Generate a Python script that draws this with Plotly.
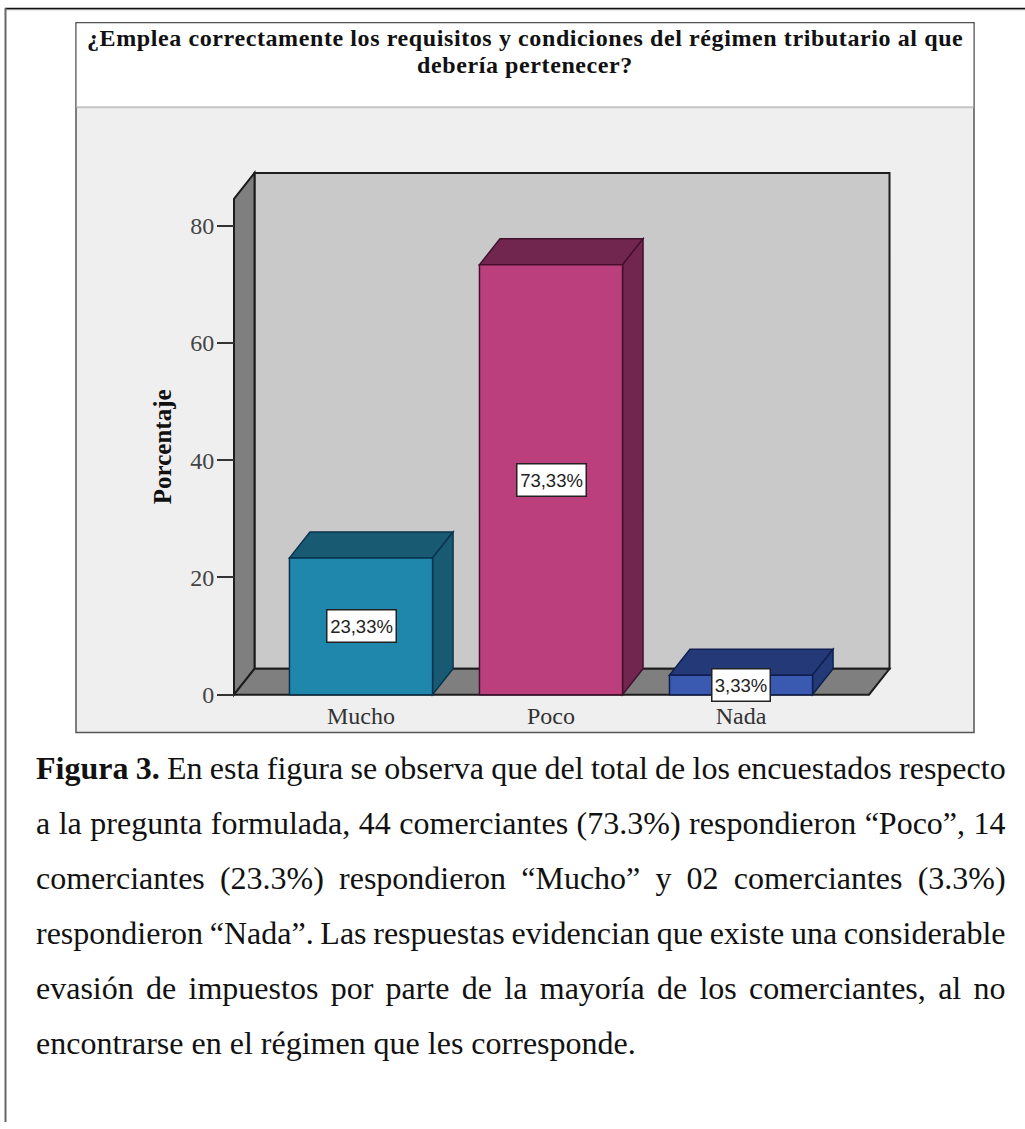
import plotly.graph_objects as go

W, H = 1025, 1129

categories = ['Mucho', 'Poco', 'Nada']
percentages = [23.33, 73.33, 3.33]
value_labels = ['23,33%', '73,33%', '3,33%']
y_ticks = [0, 20, 40, 60, 80]

front_colors = ['#1f87ac', '#bc3f7d', '#3a59b0']
side_colors = ['#175a72', '#70264f', '#243a78']
edge_colors = ['#0a3350', '#451030', '#101f50']

title_lines = ['¿Emplea correctamente los requisitos y condiciones del régimen tributario al que',
               'debería pertenecer?']

caption_lines = [
    'Figura 3. En esta figura se observa que del total de los encuestados respecto',
    'a la pregunta formulada, 44 comerciantes (73.3%) respondieron “Poco”, 14',
    'comerciantes (23.3%) respondieron “Mucho” y 02 comerciantes (3.3%)',
    'respondieron “Nada”. Las respuestas evidencian que existe una considerable',
    'evasión de impuestos por parte de la mayoría de los comerciantes, al no',
    'encontrarse en el régimen que les corresponde.',
]

# pixel scale of the two axes
X_ZERO, X_STEP = 361, 190
Y_ZERO, Y_STEP = 699, 5.9
BAR_WIDTH = 0.753
DEPTH_X = 20.5 / X_STEP
DEPTH_Y = 26 / Y_STEP
FLOOR_LEFT = (234 - X_ZERO) / X_STEP
FLOOR_RIGHT = (869 - X_ZERO) / X_STEP
WALL_TOP = (Y_ZERO - 200) / Y_STEP

# Times widths, used to justify the caption like the original
TIMES = {' ': 250, 'a': 444, 'c': 444, 'e': 444, 'f': 333, 'i': 278, 'j': 278, 'l': 278, 'm': 778, 'r': 333,
         's': 389, 't': 278, 'w': 722, 'z': 444, '.': 250, ',': 250, '(': 333, ')': 333, '%': 833, '“': 444,
         '”': 444, 'é': 444, 'í': 278, 'A': 722, 'E': 611, 'F': 556, 'L': 611, 'M': 889, 'N': 722, 'P': 556}
CAPTION_SIZE = 32
CAPTION_LEFT, CAPTION_RIGHT = 36, 1005.7


def px_x(v):
    return v / W


def px_y(v):
    return 1 - v / H


def text_width(line):
    width = sum(TIMES.get(c, 500) for c in line) * CAPTION_SIZE / 1000
    if line.startswith('Figura 3.'):
        # bold F, u, r are wider than the regular ones
        width += (55 + 56 + 111 + 56) * CAPTION_SIZE / 1000
    return width


def poly(points, fill, line, width=1.5, xref='x', yref='y'):
    path = 'M' + ' L'.join(f'{x},{y}' for x, y in points) + ' Z'
    return dict(type='path', path=path, fillcolor=fill, line=dict(color=line, width=width),
                xref=xref, yref=yref, layer='below')


def page_rect(x0, y0, x1, y1, fill, line, width=1.5):
    return dict(type='rect', xref='paper', yref='paper', x0=px_x(x0), x1=px_x(x1), y0=px_y(y0), y1=px_y(y1),
                fillcolor=fill, line=dict(color=line, width=width), layer='below')


def page_line(x0, y0, x1, y1, color, width):
    return dict(type='line', xref='paper', yref='paper', x0=px_x(x0), x1=px_x(x1), y0=px_y(y0), y1=px_y(y1),
                line=dict(color=color, width=width), layer='below')


shapes = [
    page_line(5, 9.5, W, 9.5, '#bbbbbb', 1.5),
    page_line(5, 8.5, W, 8.5, '#111111', 1.5),
    page_line(5.5, 8, 5.5, H, '#666666', 2),
    page_rect(76, 23, 974, 737, '#efefef', '#555555'),
    page_rect(76.7, 23.7, 973.3, 108, '#ffffff', 'rgba(0,0,0,0)', 0),
    page_line(76.7, 108, 973.3, 108, '#c4c4c4', 2),
]

# walls and floor
back_left, back_right = FLOOR_LEFT + DEPTH_X, FLOOR_RIGHT + DEPTH_X
back_top = WALL_TOP + DEPTH_Y
shapes.append(poly([(back_left, DEPTH_Y), (back_left, back_top), (back_right, back_top), (back_right, DEPTH_Y)],
                   '#c9c9c9', '#1c1c1c', 2))
shapes.append(poly([(FLOOR_LEFT, 0), (FLOOR_LEFT, WALL_TOP), (back_left, back_top), (back_left, DEPTH_Y)],
                   '#7f7f7f', '#1c1c1c', 2))
shapes.append(poly([(FLOOR_LEFT, 0), (back_left, DEPTH_Y), (back_right, DEPTH_Y), (FLOOR_RIGHT, 0)],
                   '#7f7f7f', '#1c1c1c', 2))

# top and side of each bar
for i, value in enumerate(percentages):
    left, right = i - BAR_WIDTH / 2, i + BAR_WIDTH / 2
    shapes.append(poly([(left, value), (left + DEPTH_X, value + DEPTH_Y), (right + DEPTH_X, value + DEPTH_Y),
                        (right, value)], side_colors[i], edge_colors[i]))
    shapes.append(poly([(right, 0), (right, value), (right + DEPTH_X, value + DEPTH_Y), (right + DEPTH_X, DEPTH_Y)],
                       side_colors[i], edge_colors[i]))

annotations = []

for i, line in enumerate(title_lines):
    annotations.append(dict(xref='paper', yref='paper', x=px_x(525), y=px_y(38 + i * 27),
                            text=f'<span style="letter-spacing:0.6px"><b>{line}</b></span>',
                            showarrow=False, xanchor='center', yanchor='middle', borderpad=0, borderwidth=0,
                            font=dict(family='Liberation Serif', size=24, color='#111111')))

annotations.append(dict(xref='paper', yref='paper', x=px_x(162), y=px_y(450), text='<b>Porcentaje</b>', textangle=-90,
                        showarrow=False, xanchor='center', yanchor='middle', borderpad=0, borderwidth=0,
                        font=dict(family='Liberation Serif', size=25, color='#111111')))

for i, value in enumerate(percentages):
    annotations.append(dict(x=i, y=value / 2, text=value_labels[i], showarrow=False, xref='x', yref='y',
                            bgcolor='#ffffff', bordercolor='#222222', borderwidth=1.5, borderpad=0,
                            width=68 if i < 2 else 57, height=31,
                            font=dict(family='Liberation Sans', size=18.5, color='#222222')))

for i, line in enumerate(caption_lines):
    words = line.split(' ')
    spacing = 0
    if i < len(caption_lines) - 1:
        spacing = (CAPTION_RIGHT - CAPTION_LEFT - text_width(line)) / (len(words) - 1)
    shown = line.replace('Figura 3.', '<b>Figura 3.</b>')
    annotations.append(dict(xref='paper', yref='paper', x=px_x(CAPTION_LEFT), y=px_y(772.6 + i * 55.4),
                            text=f'<span style="word-spacing:{spacing:.2f}px">{shown}</span>',
                            showarrow=False, xanchor='left', yanchor='middle', align='left',
                            borderpad=0, borderwidth=0,
                            font=dict(family='Liberation Serif', size=CAPTION_SIZE, color='#111111')))

fig = go.Figure(go.Bar(
    x=list(range(len(categories))),
    y=percentages,
    width=BAR_WIDTH,
    marker=dict(color=front_colors, line=dict(color=edge_colors, width=1.5)),
    hoverinfo='skip',
))

fig.update_layout(
    width=W,
    height=H,
    margin=dict(l=0, r=0, t=0, b=0),
    paper_bgcolor='#ffffff',
    plot_bgcolor='rgba(0,0,0,0)',
    showlegend=False,
    shapes=shapes,
    annotations=annotations,
    xaxis=dict(
        domain=[px_x(228), px_x(895)],
        range=[(228 - X_ZERO) / X_STEP, (895 - X_ZERO) / X_STEP],
        anchor='free', position=px_y(Y_ZERO),
        tickmode='array', tickvals=list(range(len(categories))), ticktext=categories,
        ticks='outside', ticklen=0, showgrid=False, zeroline=False, showline=False,
        tickfont=dict(family='Liberation Serif', size=24, color='#333333'),
    ),
    yaxis=dict(
        domain=[px_y(705), px_y(170)],
        range=[(Y_ZERO - 705) / Y_STEP, (Y_ZERO - 170) / Y_STEP],
        anchor='free', position=px_x(234),
        tickmode='array', tickvals=y_ticks,
        ticks='outside', ticklen=17, tickwidth=1.5, tickcolor='#333333', ticklabelstandoff=-2,
        showgrid=False, zeroline=False, showline=False,
        tickfont=dict(family='Liberation Serif', size=24, color='#444444'),
    ),
)

# the page's default body margin would push the figure off the window
fig.write_html("out.html", config={'displayModeBar': False}, post_script="document.body.style.margin = '0';")
